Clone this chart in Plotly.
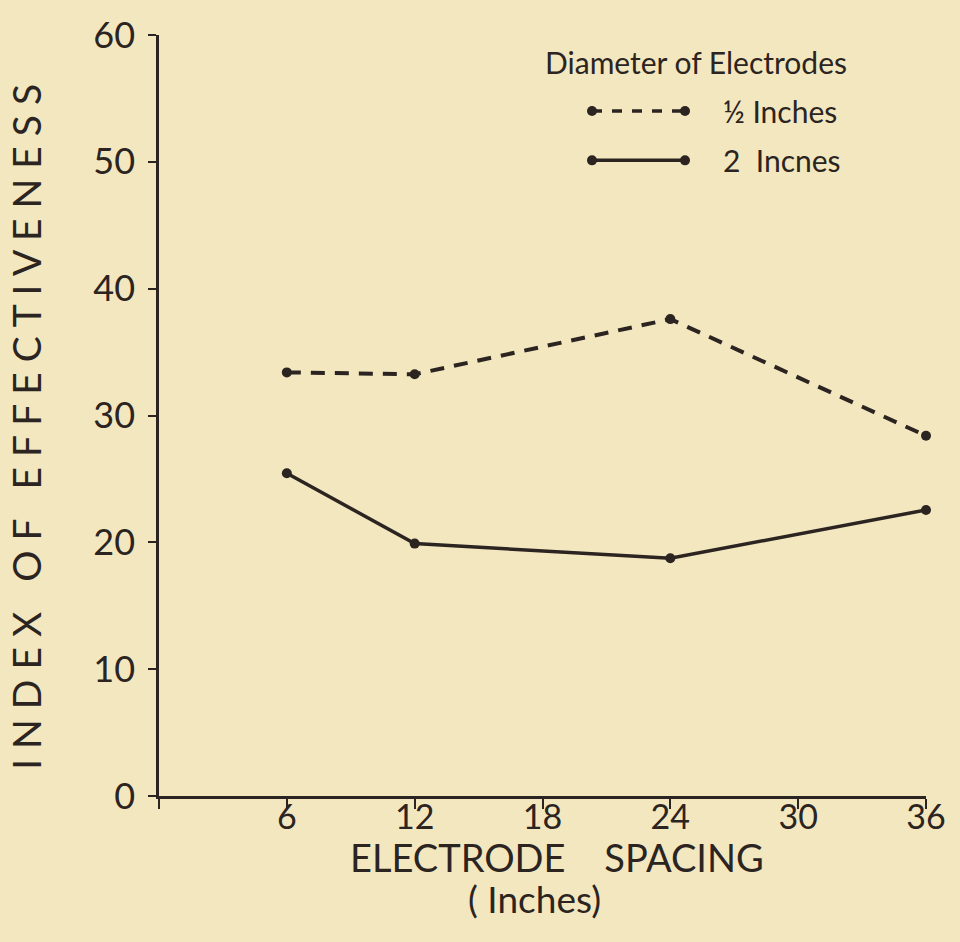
import plotly.graph_objects as go

# ---- data ----
spacing = [6, 12, 24, 36]
half_inch = [33.4, 33.25, 37.6, 28.4]
two_inch = [25.45, 19.9, 18.75, 22.55]
x_ticks = [0, 6, 12, 18, 24, 30, 36]
x_ticktext = ["", "6", "12", "18", "24", "30", "36"]
y_ticks = [0, 10, 20, 30, 40, 50, 60]
legend_title = "Diameter of Electrodes"
series_names = ["½ Inches", "2  Incnes"]

BG = "#F3E7C0"
INK = "#2B2420"
FONT = "Lato"

# plot area in pixels
L, R, T, B = 159, 926, 25, 796
W, H = 960, 942


def px(xp):
    return (xp - L) / (R - L)


def py(yp):
    return (B - yp) / (B - T)


fig = go.Figure()

fig.add_trace(go.Scatter(
    x=spacing, y=half_inch, mode="lines+markers", name=series_names[0],
    line=dict(color=INK, width=4, dash="14px,10px"),
    marker=dict(color=INK, size=10), cliponaxis=False, showlegend=False))
fig.add_trace(go.Scatter(
    x=spacing, y=two_inch, mode="lines+markers", name=series_names[1],
    line=dict(color=INK, width=3.5),
    marker=dict(color=INK, size=10), cliponaxis=False, showlegend=False))

# legend samples drawn on a pixel-mapped overlay axis
leg_x0, leg_x1 = 592, 685
leg_rows = [102, 152]
leg_dash = ["10px,10px", "solid"]
for yy, dsh, nm in zip(leg_rows, leg_dash, series_names):
    fig.add_trace(go.Scatter(
        x=[leg_x0, leg_x1], y=[yy, yy], xaxis="x2", yaxis="y2",
        mode="lines+markers", line=dict(color=INK, width=3.5, dash=dsh),
        marker=dict(color=INK, size=10), cliponaxis=False, showlegend=False,
        hoverinfo="skip"))
    fig.add_annotation(x=px(721), y=py(yy), xref="paper", yref="paper", text=nm,
                       showarrow=False, xanchor="left", yanchor="middle",
                       font=dict(family=FONT, size=30, color=INK))

fig.add_annotation(x=px(696), y=py(52), xref="paper", yref="paper", text=legend_title,
                   showarrow=False, xanchor="center", yanchor="middle",
                   font=dict(family=FONT, size=30, color=INK))

# axis titles
fig.add_annotation(x=px(26), y=py(422), xref="paper", yref="paper",
                   text="I N D E X   O F   E F F E C T I V E N E S S",
                   textangle=-90, showarrow=False, xanchor="center", yanchor="middle",
                   font=dict(family=FONT, size=39, color=INK))
fig.add_annotation(x=px(557), y=py(858), xref="paper", yref="paper",
                   text="ELECTRODE    SPACING",
                   showarrow=False, xanchor="center", yanchor="middle",
                   font=dict(family=FONT, size=38, color=INK))
fig.add_annotation(x=px(534), y=py(900), xref="paper", yref="paper",
                   text="( Inches)",
                   showarrow=False, xanchor="center", yanchor="middle",
                   font=dict(family=FONT, size=37, color=INK))

fig.update_layout(
    width=W, height=H,
    paper_bgcolor=BG, plot_bgcolor=BG,
    margin=dict(l=L, r=W - R, t=T, b=H - B, pad=0),
    showlegend=False,
    xaxis=dict(range=[0, 36], tickvals=x_ticks, ticktext=x_ticktext,
               showgrid=False, zeroline=False, showline=True, linecolor=INK,
               linewidth=2.5, ticks="outside", ticklen=10, tickwidth=2,
               tickcolor=INK, ticklabelstandoff=-21,
               tickfont=dict(family=FONT, size=34, color=INK)),
    yaxis=dict(range=[0, 60], tickvals=y_ticks,
               showgrid=False, zeroline=False, showline=True, linecolor=INK,
               linewidth=2.5, ticks="outside", ticklen=8, tickwidth=2,
               tickcolor=INK, ticklabelstandoff=6, ticklabeloverflow="allow",
               tickfont=dict(family=FONT, size=36, color=INK)),
    xaxis2=dict(range=[L, R], overlaying="x", visible=False, fixedrange=True),
    yaxis2=dict(range=[B, T], overlaying="y", visible=False, fixedrange=True),
)

fig.write_html(
    "out.html",
    config={"displayModeBar": False},
    post_script="document.body.style.margin='0';document.body.style.overflow='hidden';",
)
